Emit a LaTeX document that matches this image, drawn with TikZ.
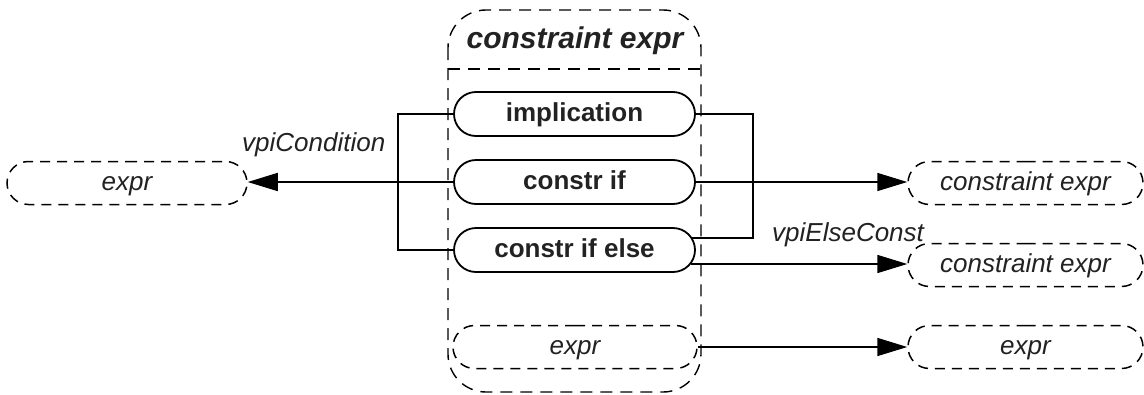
\documentclass[tikz,border=0pt]{standalone}
\usepackage{fontspec}
\setmainfont{Liberation Sans}
\usetikzlibrary{shapes.misc,arrows.meta,calc}
\definecolor{txt}{HTML}{222222}
\begin{document}
\begin{tikzpicture}[x=1pt,y=-1pt,
  pill/.style={rounded rectangle, draw=black, line width=1.8pt, minimum width=241pt,
    minimum height=44pt, inner sep=0pt, text=txt, font=\fontsize{26}{30}\selectfont\bfseries,
    text height=19pt, text depth=5pt},
  dpill/.style={rounded rectangle, draw=black, line width=1.5pt, dash pattern=on 10pt off 7pt,
    minimum height=43pt, inner sep=0pt, text=txt, font=\fontsize{26}{30}\selectfont\itshape,
    text height=19pt, text depth=5pt},
  conn/.style={draw=black, line width=1.6pt},
  arr/.style={conn, -{Triangle[length=30pt,width=18pt]}},
  lbl/.style={inner sep=0pt, anchor=west, text=txt, font=\fontsize{26}{30}\selectfont\itshape}]
\useasboundingbox (0,0) rectangle (1144,394);
% container
\draw[line width=1.4pt, dash pattern=on 12pt off 8pt, rounded corners=38pt] (448,10) rectangle (701,392);
\draw[line width=1.4pt, dash pattern=on 12pt off 8pt] (448,69) -- (701,69);
\node[inner sep=0pt, text=txt, font=\fontsize{30}{34}\selectfont\bfseries\itshape] (title) at (575,41) {constraint expr};
% nodes
\node[pill] (impl) at (574.5,114) {implication};
\node[pill] (cif) at (574.5,182) {constr if};
\node[pill] (cife) at (574.5,250) {constr if else};
\node[dpill, minimum width=244pt] (iexpr) at (575,347) {expr};
\node[dpill, minimum width=240pt] (lexpr) at (127,183) {expr};
\node[dpill, minimum width=235pt] (rc1) at (1025.5,183) {constraint expr};
\node[dpill, minimum width=235pt] (rc2) at (1025.5,265) {constraint expr};
\node[dpill, minimum width=235pt] (rexpr) at (1025.5,347) {expr};
% left bracket
\coordinate (lb1) at (398,114);
\coordinate (lb2) at (398,250);
\draw[conn] (impl.west) -- (lb1) -- (lb2) -- (cife.west);
\draw[arr] (cif.west) -- (cif.west -| lexpr.east);
% right bracket
\coordinate (rb1) at (753,114);
\coordinate (rb2) at (753,238);
\coordinate (cifeu) at (692,238);
\coordinate (cifed) at (691,264);
\draw[conn] (impl.east) -- (rb1) -- (rb2) -- (cifeu);
\draw[arr] (cif.east) -- (cif.east -| rc1.west);
\draw[arr] (cifed) -- (cifed -| rc2.west);
\draw[arr] (iexpr.east) -- (rexpr.west);
% labels
\node[lbl] (l1) at (242,145) {vpiCondition};
\node[lbl] (l2) at (772,235) {vpiElseConst};
\end{tikzpicture}
\end{document}
